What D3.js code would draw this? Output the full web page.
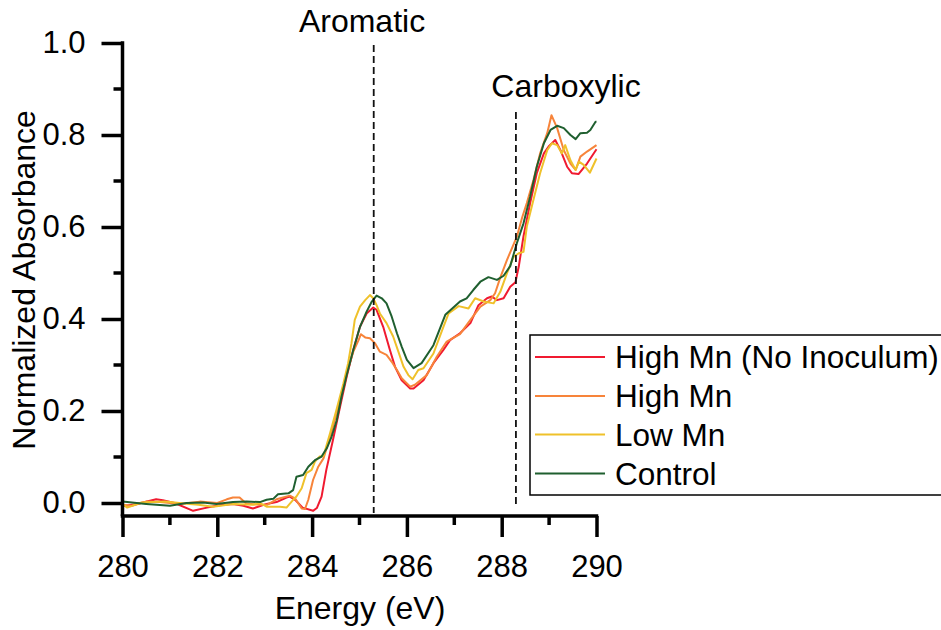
<!DOCTYPE html>
<html>
<head>
<meta charset="utf-8">
<script src="https://cdn.jsdelivr.net/npm/d3@7"></script>
<style>
  html, body { margin: 0; padding: 0; background: #fff; }
  svg { display: block; font-family: "Liberation Sans", Arial, sans-serif; }
</style>
</head>
<body>
<svg id="chart" width="941" height="630"></svg>
<script>
// C K-edge NEXAFS spectra: [energy (eV), normalized absorbance]
const highMnNoInoculum = [
  [280.0,-0.007],[280.3,-0.002],[280.71,0.008],[280.85,0.006],[281.1,0.0],[281.49,-0.017],
  [281.78,-0.01],[282.05,-0.005],[282.33,-0.002],[282.55,-0.006],[282.75,-0.012],[283.04,-0.002],
  [283.25,0.002],[283.46,0.012],[283.53,0.014],[283.64,0.007],[283.8,-0.01],[284.02,-0.017],
  [284.1,-0.011],[284.2,0.014],[284.3,0.072],[284.44,0.137],[284.59,0.209],[284.73,0.275],
  [284.87,0.333],[285.01,0.383],[285.15,0.412],[285.29,0.425],[285.36,0.42],[285.5,0.383],
  [285.64,0.333],[285.75,0.296],[285.89,0.267],[286.07,0.249],[286.14,0.249],[286.35,0.267],
  [286.56,0.304],[286.77,0.333],[286.91,0.354],[287.12,0.369],[287.34,0.391],[287.51,0.43],
  [287.69,0.445],[287.79,0.449],[287.9,0.441],[288.04,0.445],[288.18,0.47],[288.29,0.48],
  [288.36,0.514],[288.46,0.58],[288.6,0.652],[288.74,0.717],[288.89,0.76],[288.99,0.775],
  [289.13,0.789],[289.24,0.767],[289.38,0.731],[289.48,0.717],[289.62,0.715],[289.8,0.738],
  [290.0,0.769]
];
const highMn = [
  [280.0,-0.004],[280.2,-0.006],[280.5,0.003],[280.8,0.002],[281.2,-0.002],[281.63,0.003],
  [282.0,0.0],[282.2,0.008],[282.33,0.012],[282.47,0.012],[282.61,-0.001],[282.9,-0.004],
  [283.05,-0.004],[283.25,0.008],[283.53,0.016],[283.64,0.01],[283.78,-0.012],[283.85,-0.013],
  [283.92,0.007],[284.02,0.05],[284.13,0.079],[284.24,0.097],[284.38,0.144],[284.52,0.195],
  [284.66,0.253],[284.76,0.293],[284.87,0.329],[284.98,0.354],[285.03,0.367],[285.12,0.36],
  [285.22,0.358],[285.33,0.347],[285.43,0.329],[285.57,0.322],[285.68,0.307],[285.79,0.289],
  [285.89,0.271],[286.07,0.253],[286.17,0.257],[286.42,0.278],[286.63,0.318],[286.84,0.351],
  [287.12,0.367],[287.34,0.398],[287.55,0.427],[287.76,0.441],[287.86,0.456],[287.97,0.49],
  [288.11,0.528],[288.32,0.579],[288.43,0.62],[288.53,0.652],[288.67,0.702],[288.81,0.76],
  [288.96,0.804],[289.05,0.843],[289.17,0.815],[289.31,0.767],[289.45,0.738],[289.56,0.724],
  [289.66,0.753],[289.8,0.764],[290.0,0.778]
];
const lowMn = [
  [280.0,-0.002],[280.1,-0.01],[280.4,0.001],[280.9,0.003],[281.3,-0.001],[281.6,-0.004],
  [281.91,-0.008],[282.33,-0.002],[282.75,-0.004],[282.9,0.0],[283.04,-0.008],[283.32,-0.008],
  [283.46,-0.01],[283.6,0.007],[283.67,0.014],[283.78,0.032],[283.88,0.065],[283.99,0.072],
  [284.06,0.09],[284.16,0.101],[284.24,0.102],[284.38,0.152],[284.52,0.205],[284.66,0.26],
  [284.76,0.304],[284.83,0.347],[284.9,0.398],[285.01,0.427],[285.12,0.441],[285.22,0.452],
  [285.29,0.445],[285.36,0.43],[285.43,0.412],[285.57,0.391],[285.71,0.362],[285.82,0.329],
  [285.93,0.296],[286.03,0.278],[286.12,0.269],[286.24,0.289],[286.35,0.293],[286.56,0.325],
  [286.77,0.383],[286.88,0.412],[287.09,0.428],[287.3,0.423],[287.44,0.445],[287.62,0.438],
  [287.83,0.434],[287.97,0.459],[288.11,0.499],[288.25,0.535],[288.36,0.543],[288.46,0.546],
  [288.53,0.601],[288.67,0.659],[288.81,0.717],[288.96,0.767],[289.06,0.782],[289.17,0.778],
  [289.27,0.76],[289.34,0.778],[289.45,0.745],[289.56,0.724],[289.63,0.742],[289.73,0.735],
  [289.86,0.718],[290.0,0.749]
];
const control = [
  [280.0,0.003],[280.5,-0.002],[281.0,-0.006],[281.35,0.0],[281.7,0.001],[281.98,-0.002],
  [282.33,0.002],[282.62,0.003],[282.9,0.002],[283.04,0.007],[283.18,0.009],[283.28,0.019],
  [283.5,0.021],[283.6,0.028],[283.67,0.057],[283.81,0.061],[283.92,0.079],[284.06,0.093],
  [284.2,0.101],[284.31,0.119],[284.41,0.144],[284.52,0.18],[284.62,0.231],[284.73,0.278],
  [284.87,0.333],[285.01,0.383],[285.15,0.416],[285.26,0.438],[285.36,0.451],[285.47,0.445],
  [285.57,0.434],[285.68,0.405],[285.79,0.369],[285.89,0.34],[286.0,0.311],[286.14,0.293],
  [286.31,0.304],[286.56,0.343],[286.81,0.409],[286.98,0.425],[287.12,0.438],[287.26,0.445],
  [287.4,0.463],[287.55,0.481],[287.72,0.491],[287.9,0.485],[288.04,0.494],[288.18,0.515],
  [288.32,0.565],[288.46,0.608],[288.6,0.666],[288.74,0.731],[288.89,0.782],[289.03,0.811],
  [289.17,0.82],[289.31,0.815],[289.45,0.8],[289.56,0.791],[289.66,0.804],[289.8,0.805],
  [289.87,0.811],[289.98,0.829],[290.0,0.829]
];

const seriesNames = ["High Mn (No Inoculum)", "High Mn", "Low Mn", "Control"];
const seriesColors = ["#f01a30", "#f7843a", "#efc12a", "#1f5f2f"];
const seriesData = [highMnNoInoculum, highMn, lowMn, control];

// reference energies for the aromatic and carboxylic C features
const peakNames = ["Aromatic", "Carboxylic"];
const peakEnergies = [285.3, 288.3];

const xTicks = [280, 282, 284, 286, 288, 290];
const xMinorTicks = [281, 283, 285, 287, 289];
const yTicks = [0.0, 0.2, 0.4, 0.6, 0.8, 1.0];
const yMinorTicks = [0.1, 0.3, 0.5, 0.7, 0.9];

const svg = d3.select("#chart");
const x = d3.scaleLinear().domain([280, 290]).range([122.5, 596.5]);
const y = d3.scaleLinear().domain([0, 1]).range([503, 43]);
const xAxisY = 516;
const yAxisX = 122.5;

// spectra
const line = d3.line().x(d => x(d[0])).y(d => y(d[1]));
const curves = svg.append("g");
seriesData.forEach((s, i) => {
  curves.append("path")
    .datum(s)
    .attr("d", line)
    .attr("fill", "none")
    .attr("stroke", seriesColors[i])
    .attr("stroke-width", 2)
    .attr("stroke-linejoin", "round");
});

// dashed markers for the peak energies
const peakTop = [45, 112];
const peakBottom = [513, 505];
peakEnergies.forEach((e, i) => {
  svg.append("line")
    .attr("x1", x(e)).attr("x2", x(e))
    .attr("y1", peakTop[i]).attr("y2", peakBottom[i])
    .attr("stroke", "#111").attr("stroke-width", 1.8)
    .attr("stroke-dasharray", "7,4");
});
svg.append("text").attr("x", 362).attr("y", 32)
  .attr("text-anchor", "middle").attr("font-size", 32).text(peakNames[0]);
svg.append("text").attr("x", 566).attr("y", 97)
  .attr("text-anchor", "middle").attr("font-size", 32).text(peakNames[1]);

// axes
const xAxis = d3.axisBottom(x).tickValues(xTicks).tickFormat(d3.format("d"))
  .tickSize(21).tickPadding(18);
const gx = svg.append("g").attr("transform", `translate(0,${xAxisY})`).call(xAxis);
gx.append("g").selectAll("line").data(xMinorTicks).join("line")
  .attr("x1", d => x(d)).attr("x2", d => x(d)).attr("y1", 0).attr("y2", 9)
  .attr("stroke", "#000").attr("stroke-width", 3.5);

const yAxis = d3.axisLeft(y).tickValues(yTicks).tickFormat(d3.format(".1f"))
  .tickSize(21).tickPadding(16);
const gy = svg.append("g").attr("transform", `translate(${yAxisX},0)`).call(yAxis);
gy.append("g").selectAll("line").data(yMinorTicks).join("line")
  .attr("x1", 0).attr("x2", -9).attr("y1", d => y(d)).attr("y2", d => y(d))
  .attr("stroke", "#000").attr("stroke-width", 3.5);

[gx, gy].forEach(g => {
  g.select(".domain").remove();
  g.selectAll(".tick line").attr("stroke", "#000").attr("stroke-width", 3.5);
  g.selectAll(".tick text").attr("fill", "#000").attr("font-size", 31)
    .attr("font-family", "Liberation Sans, Arial, sans-serif");
});

// axis spines
svg.append("line").attr("x1", yAxisX - 1.75).attr("x2", x(290) + 1.75)
  .attr("y1", xAxisY).attr("y2", xAxisY).attr("stroke", "#000").attr("stroke-width", 3.5);
svg.append("line").attr("x1", yAxisX).attr("x2", yAxisX)
  .attr("y1", y(1) - 1.75).attr("y2", xAxisY).attr("stroke", "#000").attr("stroke-width", 3.5);

// axis titles
svg.append("text").attr("x", 360).attr("y", 619)
  .attr("text-anchor", "middle").attr("font-size", 32).text("Energy (eV)");
svg.append("text").attr("transform", "translate(35,280) rotate(-90)")
  .attr("text-anchor", "middle").attr("font-size", 32).text("Normalized Absorbance");

// legend
const legend = svg.append("g");
legend.append("rect").attr("x", 530).attr("y", 335).attr("width", 420).attr("height", 160)
  .attr("fill", "#fff").attr("stroke", "#000").attr("stroke-width", 1.5);
const rowY = [357, 396, 434.5, 473.5];
seriesNames.forEach((name, i) => {
  legend.append("line").attr("x1", 535).attr("x2", 605)
    .attr("y1", rowY[i]).attr("y2", rowY[i])
    .attr("stroke", seriesColors[i]).attr("stroke-width", 2);
  legend.append("text").attr("x", 615).attr("y", rowY[i] + 11)
    .attr("font-size", 31.5).text(name);
});
</script>
</body>
</html>
